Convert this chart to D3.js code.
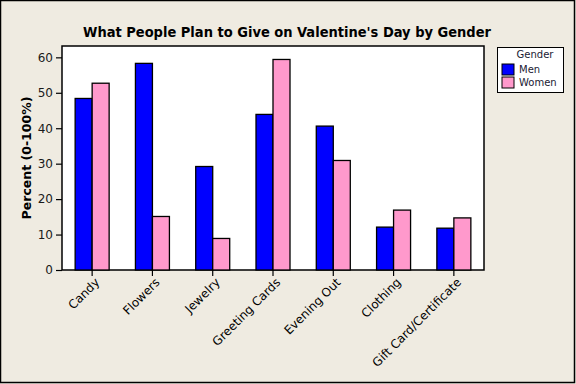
<!DOCTYPE html>
<html>
<head>
<meta charset="utf-8">
<script src="https://cdn.jsdelivr.net/npm/d3@7"></script>
<style>
  body { margin: 0; background: #efebe1; }
  svg { display: block; }
</style>
</head>
<body>
<svg id="chart" width="576" height="384"></svg>
<script>
const categories = ["Candy", "Flowers", "Jewelry", "Greeting Cards", "Evening Out", "Clothing", "Gift Card/Certificate"];
const genders = ["Men", "Women"];
const menValues = [48.4, 58.3, 29.2, 43.9, 40.6, 12.1, 11.8];
const womenValues = [52.7, 15.1, 8.9, 59.4, 30.9, 16.9, 14.7];
const yTicks = [0, 10, 20, 30, 40, 50, 60];
const colors = ["#0000ff", "#ff99cc"];

const width = 576, height = 384;
const plot = { left: 62, right: 484, top: 46, bottom: 270 };
const font = "DejaVu Sans, Tahoma, sans-serif";
const condensed = "DejaVu Sans Condensed, DejaVu Sans, sans-serif";

const svg = d3.select("#chart");

// background + outer frame
svg.append("rect")
  .attr("x", 0.5).attr("y", 0.5)
  .attr("width", width - 2).attr("height", height - 2)
  .attr("fill", "#efebe1")
  .attr("stroke", "#000").attr("stroke-width", 1.5);

const x = d3.scaleBand()
  .domain(categories)
  .range([plot.left, plot.right]);

const y = d3.scaleLinear()
  .domain([0, 63.2])
  .range([plot.bottom, plot.top]);

const barW = 17;

svg.append("rect")
  .attr("x", plot.left).attr("y", plot.top)
  .attr("width", plot.right - plot.left).attr("height", plot.bottom - plot.top)
  .attr("fill", "#fff")
  .attr("stroke", "#000").attr("stroke-width", 1.5);

const rows = categories.map((c, i) => ({ cat: c, vals: [menValues[i], womenValues[i]] }));

const groups = svg.append("g").selectAll("g")
  .data(rows).join("g");

groups.selectAll("rect")
  .data(d => d.vals.map((v, j) => ({ cat: d.cat, v, j })))
  .join("rect")
  .attr("x", d => x(d.cat) + x.bandwidth() / 2 + (d.j - 1) * barW)
  .attr("y", d => y(d.v))
  .attr("width", barW)
  .attr("height", d => y(0) - y(d.v))
  .attr("fill", d => colors[d.j])
  .attr("stroke", "#000").attr("stroke-width", 1.3);

// y axis
svg.append("g")
  .attr("transform", `translate(${plot.left},0)`)
  .call(d3.axisLeft(y).tickValues(yTicks).tickSize(6).tickPadding(3))
  .call(g => g.select(".domain").remove())
  .call(g => g.selectAll("line").attr("stroke", "#000").attr("stroke-width", 1.2))
  .call(g => g.selectAll("text").attr("font-family", font).attr("font-size", 12).attr("fill", "#1a1a1a"));

// x axis
svg.append("g")
  .attr("transform", `translate(0,${plot.bottom})`)
  .call(d3.axisBottom(x).tickSize(6).tickSizeOuter(0))
  .call(g => g.select(".domain").remove())
  .call(g => g.selectAll("line").attr("stroke", "#000").attr("stroke-width", 1.2))
  .call(g => g.selectAll("text")
    .attr("font-family", font).attr("font-size", 12).attr("fill", "#000")
    .attr("text-anchor", "end")
    .attr("x", 0).attr("y", 0)
    .attr("dy", "0.6em")
    .attr("transform", "translate(3,8) rotate(-45)"));

// title
svg.append("text")
  .attr("x", 287).attr("y", 37)
  .attr("text-anchor", "middle")
  .attr("font-family", condensed).attr("font-weight", "bold").attr("font-size", 14.5)
  .attr("fill", "#000")
  .text("What People Plan to Give on Valentine's Day by Gender");

// y label
svg.append("text")
  .attr("transform", `translate(31,${(plot.top + plot.bottom) / 2}) rotate(-90)`)
  .attr("text-anchor", "middle")
  .attr("font-family", font).attr("font-weight", "bold").attr("font-size", 12.5)
  .attr("fill", "#000")
  .text("Percent (0-100%)");

// legend
const leg = svg.append("g");
leg.append("rect")
  .attr("x", 497.5).attr("y", 47.5).attr("width", 66).attr("height", 45)
  .attr("fill", "#fff").attr("stroke", "#000").attr("stroke-width", 1);
leg.append("text")
  .attr("x", 535).attr("y", 58)
  .attr("text-anchor", "middle")
  .attr("font-family", font).attr("font-size", 10).attr("fill", "#1a1a33")
  .text("Gender");
genders.forEach((gname, i) => {
  leg.append("rect")
    .attr("x", 502).attr("y", 64 + i * 13)
    .attr("width", 12).attr("height", 11)
    .attr("fill", colors[i]).attr("stroke", "#000").attr("stroke-width", 1);
  leg.append("text")
    .attr("x", 519).attr("y", 73 + i * 13)
    .attr("font-family", font).attr("font-size", 10).attr("fill", "#1a1a33")
    .text(gname);
});
</script>
</body>
</html>
